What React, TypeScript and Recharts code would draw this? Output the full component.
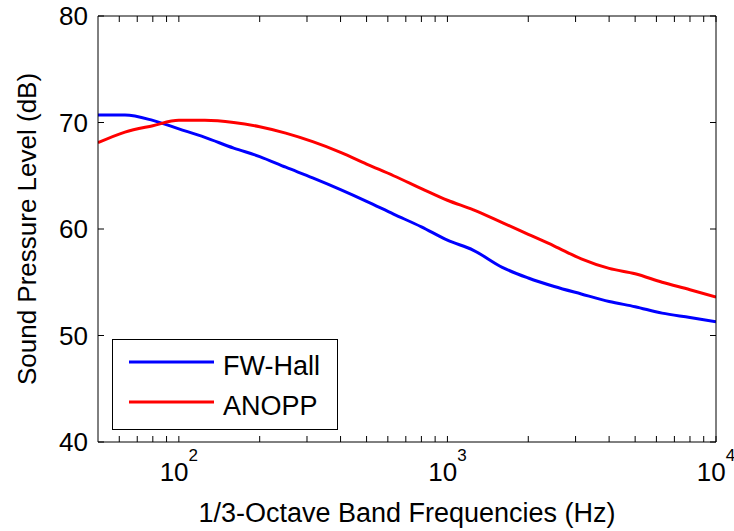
import React from 'react';
import { LineChart, Line, XAxis, YAxis, Legend } from 'recharts';

// 1/3-octave band centre frequencies (Hz)
const frequencies = [
  50, 63, 80, 100, 125, 160, 200, 250, 315, 400, 500, 630, 800, 1000, 1250, 1600,
  2000, 2500, 3150, 4000, 5000, 6300, 8000, 10000,
];
const fwHall = [
  70.7, 70.7, 70.2, 69.4, 68.6, 67.6, 66.8, 65.8, 64.8, 63.7, 62.6, 61.4, 60.2, 58.95,
  58.0, 56.4, 55.4, 54.6, 53.9, 53.2, 52.7, 52.1, 51.7, 51.3,
];
const anopp = [
  68.1, 69.1, 69.7, 70.2, 70.2, 70.0, 69.6, 69.0, 68.2, 67.2, 66.1, 65.0, 63.8, 62.7,
  61.8, 60.6, 59.5, 58.4, 57.2, 56.3, 55.8, 55.0, 54.3, 53.6,
];
const seriesOrder = ['fw', 'anopp'];
const yTicks = [40, 50, 60, 70, 80];
const xMajorTicks = [100, 1000, 10000];
const xMinorTicks = [60, 70, 80, 90, 200, 300, 400, 500, 600, 700, 800, 900, 2000, 3000, 4000, 5000, 6000, 7000, 8000, 9000];

const data = frequencies.map((f, i) => ({ freq: f, fw: fwHall[i], anopp: anopp[i] }));
const allXTicks = [...xMinorTicks, ...xMajorTicks].sort((a, b) => a - b);

const FONT = 'Liberation Sans, Arial, sans-serif';

const BottomTick = (props: any) => {
  const { x, y, payload } = props;
  const major = xMajorTicks.includes(payload.value);
  const exp = Math.round(Math.log10(payload.value));
  return (
    <g>
      <line x1={x} y1={y} x2={x} y2={y - 6} stroke="#000" />
      {major && (
        <text x={x} y={y + 39} textAnchor="middle" fontSize={26} fontFamily={FONT} fill="#000">
          <tspan>10</tspan>
          <tspan dy={-20} fontSize={17}>{exp}</tspan>
        </text>
      )}
    </g>
  );
};

const TopTick = (props: any) => {
  const { x, y } = props;
  return <line x1={x} y1={y} x2={x} y2={y + 6} stroke="#000" />;
};

const LeftTick = (props: any) => {
  const { x, y, payload } = props;
  return (
    <g>
      <line x1={x} y1={y} x2={x + 6} y2={y} stroke="#000" />
      <text x={x - 10} y={y + 9} textAnchor="end" fontSize={26} fontFamily={FONT} fill="#000">
        {payload.value}
      </text>
    </g>
  );
};

const RightTick = (props: any) => {
  const { x, y } = props;
  return <line x1={x} y1={y} x2={x - 6} y2={y} stroke="#000" />;
};

const LegendBox = (props: any) => {
  const { payload = [] } = props;
  const items = seriesOrder
    .map((k) => payload.find((p: any) => p.dataKey === k))
    .filter(Boolean);
  return (
    <svg width={226} height={91} style={{ display: 'block' }}>
      <rect x={0.5} y={0.5} width={225} height={90} fill="#fff" stroke="#000" />
      {items.map((entry: any, i: number) => (
        <g key={entry.value}>
          <line x1={17} x2={102} y1={23 + i * 40} y2={23 + i * 40} stroke={entry.color} strokeWidth={3} />
          <text x={111} y={36 + i * 40} fontSize={27} fontFamily={FONT} fill="#000">
            {entry.value}
          </text>
        </g>
      ))}
    </svg>
  );
};

export default function App() {
  return (
    <div style={{ position: 'absolute', left: 0, top: 0, fontFamily: FONT, background: '#fff' }}>
      <LineChart width={734} height={531} data={data} margin={{ top: 15, right: 17, bottom: 0, left: 0 }}>
        <XAxis
          xAxisId="bottom"
          dataKey="freq"
          type="number"
          scale="log"
          domain={[50, 10000]}
          allowDataOverflow
          ticks={allXTicks}
          interval={0}
          height={89}
          tickSize={0}
          tickMargin={0}
          tick={<BottomTick />}
          axisLine={{ stroke: '#000' }}
          label={{
            value: '1/3-Octave Band Frequencies (Hz)',
            position: 'insideBottom',
            offset: 9,
            fontSize: 27,
            fontFamily: FONT,
            fill: '#000',
          }}
        />
        <XAxis
          xAxisId="top"
          orientation="top"
          dataKey="freq"
          type="number"
          scale="log"
          domain={[50, 10000]}
          allowDataOverflow
          ticks={allXTicks}
          interval={0}
          height={1}
          tickSize={0}
          tickMargin={0}
          tick={<TopTick />}
          axisLine={{ stroke: '#000' }}
        />
        <YAxis
          yAxisId="left"
          type="number"
          domain={[40, 80]}
          ticks={yTicks}
          interval={0}
          width={98}
          tickSize={0}
          tickMargin={0}
          tick={<LeftTick />}
          axisLine={{ stroke: '#000' }}
          label={{
            value: 'Sound Pressure Level (dB)',
            angle: -90,
            position: 'insideLeft',
            offset: 27,
            fontSize: 26,
            fontFamily: FONT,
            fill: '#000',
            style: { textAnchor: 'middle' },
          }}
        />
        <YAxis
          yAxisId="right"
          orientation="right"
          type="number"
          domain={[40, 80]}
          ticks={yTicks}
          interval={0}
          width={1}
          tickSize={0}
          tickMargin={0}
          tick={<RightTick />}
          axisLine={{ stroke: '#000' }}
        />
        <Line
          xAxisId="top"
          yAxisId="right"
          dataKey="fw"
          stroke="none"
          dot={false}
          activeDot={false}
          legendType="none"
          isAnimationActive={false}
        />
        <Line
          xAxisId="bottom"
          yAxisId="left"
          type="monotone"
          dataKey="fw"
          name="FW-Hall"
          stroke="#0000ff"
          strokeWidth={3}
          dot={false}
          isAnimationActive={false}
        />
        <Line
          xAxisId="bottom"
          yAxisId="left"
          type="monotone"
          dataKey="anopp"
          name="ANOPP"
          stroke="#ff0000"
          strokeWidth={3}
          dot={false}
          isAnimationActive={false}
        />
        <Legend
          layout="horizontal"
          verticalAlign="middle"
          align="center"
          content={<LegendBox />}
          wrapperStyle={{ left: 112, top: 339, width: 226, height: 91 }}
        />
      </LineChart>
    </div>
  );
}
